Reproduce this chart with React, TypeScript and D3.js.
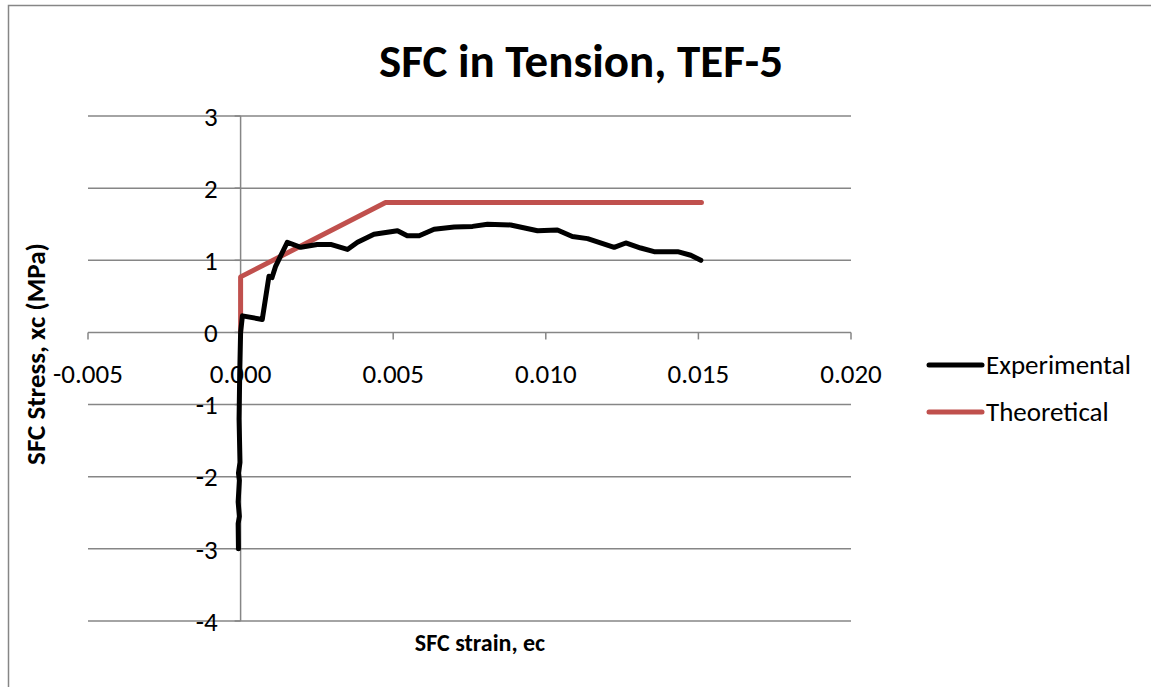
import React from "react";
import * as d3 from "d3";

const expStrain = [-0.00007, -0.00008, -0.00004, -0.00008, -0.00004, -0.00007, -0.00002, -0.00005, -0.00003, 0.0, 0.00006, 0.00071, 0.00093, 0.00103, 0.00115, 0.00153, 0.00197, 0.00251, 0.00295, 0.0035, 0.00383, 0.00437, 0.00514, 0.00546, 0.00585, 0.00634, 0.007, 0.0076, 0.00809, 0.00885, 0.00973, 0.01038, 0.01087, 0.01137, 0.01224, 0.01262, 0.01311, 0.01355, 0.01432, 0.01475, 0.01508];
const expStress = [-3.0, -2.65, -2.55, -2.35, -2.05, -1.95, -1.8, -1.2, -0.6, 0.0, 0.23, 0.18, 0.78, 0.76, 0.92, 1.25, 1.18, 1.22, 1.22, 1.15, 1.25, 1.36, 1.41, 1.34, 1.34, 1.43, 1.46, 1.47, 1.5, 1.49, 1.41, 1.42, 1.33, 1.3, 1.18, 1.24, 1.17, 1.12, 1.12, 1.07, 1.0];

const theoStrain = [0.0, 0.0, 0.00475, 0.0151];
const theoStress = [0.0, 0.77, 1.8, 1.8];

const xTicks = [-0.005, 0.0, 0.005, 0.01, 0.015, 0.02];
const yTicks = [3, 2, 1, 0, -1, -2, -3, -4];

const seriesNames = ["Experimental", "Theoretical"];
const seriesColors = ["#000000", "#C0504D"];

const FONT = "Carlito, Calibri, Lato, 'Open Sans', sans-serif";

export default function App() {
  const W = 1151;
  const H = 687;
  const x = d3.scaleLinear().domain([-0.005, 0.02]).range([88, 851]);
  const y = d3.scaleLinear().domain([-4, 3]).range([621, 116]);

  const expData: [number, number][] = expStrain.map((s, i) => [s, expStress[i]]);
  const theoData: [number, number][] = theoStrain.map((s, i) => [s, theoStress[i]]);
  const line = d3
    .line<[number, number]>()
    .x((d) => x(d[0]))
    .y((d) => y(d[1]));

  const grid = "#868686";
  const x0 = x(0);
  const y0 = y(0);

  return (
    <svg
      width={W}
      height={H}
      style={{ position: "absolute", left: 0, top: 0, background: "#fff" }}
      fontFamily={FONT}
    >
      <rect x={0} y={0} width={W} height={H} fill="#fff" />
      <path d={`M8.5,${H} V5.5 H${W}`} fill="none" stroke={grid} strokeWidth={1.5} />

      {/* horizontal gridlines */}
      {yTicks.map((t) => (
        <line key={"g" + t} x1={x(-0.005)} x2={x(0.02)} y1={y(t)} y2={y(t)} stroke={grid} strokeWidth={1.5} />
      ))}
      {/* y axis */}
      <line x1={x0} x2={x0} y1={y(3)} y2={y(-4)} stroke={grid} strokeWidth={1.5} />
      {yTicks.map((t) => (
        <line key={"yt" + t} x1={x0 - 6} x2={x0} y1={y(t)} y2={y(t)} stroke={grid} strokeWidth={1.5} />
      ))}
      {/* x axis ticks */}
      {xTicks.map((t) => (
        <line key={"xt" + t} x1={x(t)} x2={x(t)} y1={y0} y2={y0 + 7} stroke={grid} strokeWidth={1.5} />
      ))}

      {/* tick labels */}
      {xTicks.map((t) => (
        <text key={"xl" + t} x={x(t)} y={y0 + 51} textAnchor="middle" fontSize={27} fill="#000">
          {t.toFixed(3)}
        </text>
      ))}
      {yTicks.map((t) => (
        <text
          key={"yl" + t}
          x={x0 - 23}
          y={y(t)}
          dy="0.36em"
          textAnchor="end"
          fontSize={27}
          fill="#000"
        >
          {t}
        </text>
      ))}

      {/* series */}
      <path d={line(theoData) || ""} fill="none" stroke={seriesColors[1]} strokeWidth={5} strokeLinejoin="round" strokeLinecap="round" />
      <path d={line(expData) || ""} fill="none" stroke={seriesColors[0]} strokeWidth={5} strokeLinejoin="round" strokeLinecap="round" />

      {/* title */}
      <text x={581} y={77} textAnchor="middle" fontSize={47} fontWeight="bold" fill="#000">
        SFC in Tension, TEF-5
      </text>
      {/* axis titles */}
      <text x={480} y={651} textAnchor="middle" fontSize={24} fontWeight="bold" fill="#000">
        SFC strain, ec
      </text>
      <text
        transform={`translate(45,354) rotate(-90)`}
        textAnchor="middle"
        fontSize={27}
        fontWeight="bold"
        fill="#000"
      >
        SFC Stress, xc (MPa)
      </text>

      {/* legend */}
      {seriesNames.map((n, i) => (
        <g key={n} transform={`translate(0,${365 + i * 47})`}>
          <line x1={929} x2={982} y1={0} y2={0} stroke={seriesColors[i]} strokeWidth={5} strokeLinecap="round" />
          <text x={986} y={0} dy="0.35em" fontSize={27} fill="#000">
            {n}
          </text>
        </g>
      ))}
    </svg>
  );
}
